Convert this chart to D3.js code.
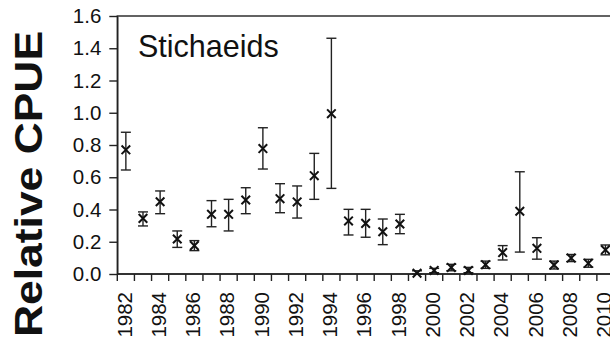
<!DOCTYPE html>
<html>
<head>
<meta charset="utf-8">
<script src="https://cdn.jsdelivr.net/npm/d3@7"></script>
<style>
  html, body { margin: 0; padding: 0; background: #fff; }
  svg { display: block; }
  text { font-family: "Liberation Sans", Arial, Helvetica, sans-serif; fill: #111; }
</style>
</head>
<body>
<svg id="chart" width="610" height="341"></svg>
<script>
// Survey years
const years = [1982, 1983, 1984, 1985, 1986, 1987, 1988, 1989, 1990, 1991,
               1992, 1993, 1994, 1995, 1996, 1997, 1998, 1999, 2000, 2001,
               2002, 2003, 2004, 2005, 2006, 2007, 2008, 2009, 2010];
// Relative CPUE estimate per year
const cpue  = [0.77, 0.345, 0.448, 0.217, 0.176, 0.37, 0.37, 0.459, 0.778, 0.467,
               0.447, 0.61, 0.994, 0.329, 0.314, 0.262, 0.31, 0.005, 0.022, 0.041,
               0.022, 0.058, 0.133, 0.389, 0.159, 0.056, 0.099, 0.066, 0.15];
// Upper and lower confidence limits
const upper = [0.879, 0.385, 0.515, 0.267, 0.207, 0.455, 0.463, 0.535, 0.907, 0.56,
               0.546, 0.748, 1.462, 0.401, 0.401, 0.341, 0.37, 0.02, 0.035, 0.06,
               0.041, 0.08, 0.176, 0.634, 0.225, 0.08, 0.121, 0.091, 0.18];
const lower = [0.645, 0.298, 0.374, 0.165, 0.145, 0.293, 0.267, 0.374, 0.651, 0.38,
               0.347, 0.463, 0.531, 0.242, 0.228, 0.182, 0.25, 0.0, 0.008, 0.02,
               0.008, 0.035, 0.087, 0.136, 0.092, 0.031, 0.077, 0.042, 0.119];
const yTicks = [0.0, 0.2, 0.4, 0.6, 0.8, 1.0, 1.2, 1.4, 1.6];
const labelYears = years.filter(y => y % 2 === 0);
const title = "Stichaeids";
const yTitle = "Relative CPUE";

const svg = d3.select("#chart");
const ink = "#222";

const plot = { left: 117.3, right: 614, top: 16, bottom: 274 };

const x = d3.scaleBand()
  .domain(years)
  .range([plot.left, plot.right])
  .padding(0);

const y = d3.scaleLinear()
  .domain([0, 1.6])
  .range([plot.bottom, plot.top]);

// Plot frame
svg.append("rect")
  .attr("x", plot.left).attr("y", plot.top)
  .attr("width", plot.right - plot.left).attr("height", plot.bottom - plot.top)
  .attr("fill", "none").attr("stroke", ink).attr("stroke-width", 1.4);

// Y axis
const yAxis = d3.axisLeft(y)
  .tickValues(yTicks)
  .tickFormat(d3.format(".1f"))
  .tickSizeInner(8).tickSizeOuter(0).tickPadding(8);
const gy = svg.append("g")
  .attr("transform", `translate(${plot.left},0)`)
  .call(yAxis);
gy.select(".domain").attr("stroke", ink).attr("stroke-width", 1.4);
gy.selectAll(".tick line").attr("stroke", ink).attr("stroke-width", 1.4);
gy.selectAll(".tick text")
  .style("font-size", "20.5px")
  .style("font-family", "'Liberation Sans', Arial, sans-serif")
  .attr("fill", "#111");

// X axis: ticks at year boundaries, labels every other year
const gx = svg.append("g").attr("transform", `translate(0,${plot.bottom})`);
gx.append("line")
  .attr("x1", plot.left).attr("x2", plot.right)
  .attr("stroke", ink).attr("stroke-width", 1.4);
gx.selectAll("line.tick")
  .data(years)
  .join("line")
  .attr("class", "tick")
  .attr("x1", d => x(d)).attr("x2", d => x(d))
  .attr("y1", 0).attr("y2", 7)
  .attr("stroke", ink).attr("stroke-width", 1.4);
gx.selectAll("text.year")
  .data(labelYears)
  .join("text")
  .attr("class", "year")
  .attr("transform", d => `translate(${x(d) + x.bandwidth() / 2 - 1.5},18) rotate(-90)`)
  .attr("text-anchor", "end")
  .attr("dy", "0.35em")
  .style("font-size", "20.5px")
  .text(d => d);

// Error bars
const cap = 5;
const bars = svg.append("g")
  .attr("stroke", ink).attr("stroke-width", 1.4).attr("fill", "none");
years.forEach((yr, i) => {
  const cx = x(yr) + x.bandwidth() / 2;
  bars.append("line")
    .attr("x1", cx).attr("x2", cx)
    .attr("y1", y(upper[i])).attr("y2", y(lower[i]));
  bars.append("line")
    .attr("x1", cx - cap).attr("x2", cx + cap)
    .attr("y1", y(upper[i])).attr("y2", y(upper[i]));
  bars.append("line")
    .attr("x1", cx - cap).attr("x2", cx + cap)
    .attr("y1", y(lower[i])).attr("y2", y(lower[i]));
});

// Point estimates drawn as crosses
const cross = d3.symbol().type(d3.symbolX).size(50);
svg.append("g")
  .selectAll("path")
  .data(years)
  .join("path")
  .attr("transform", (d, i) => `translate(${x(d) + x.bandwidth() / 2},${y(cpue[i])})`)
  .attr("d", cross)
  .attr("fill", "none")
  .attr("stroke", "#111")
  .attr("stroke-width", 2);

// Panel title
svg.append("text")
  .attr("x", 138).attr("y", 57)
  .style("font-size", "30.5px")
  .text(title);

// Y axis title
svg.append("text")
  .attr("transform", "translate(41.5,184) rotate(-90)")
  .attr("text-anchor", "middle")
  .style("font-size", "39px")
  .style("font-weight", "bold")
  .attr("textLength", 306)
  .attr("lengthAdjust", "spacingAndGlyphs")
  .text(yTitle);
</script>
</body>
</html>
